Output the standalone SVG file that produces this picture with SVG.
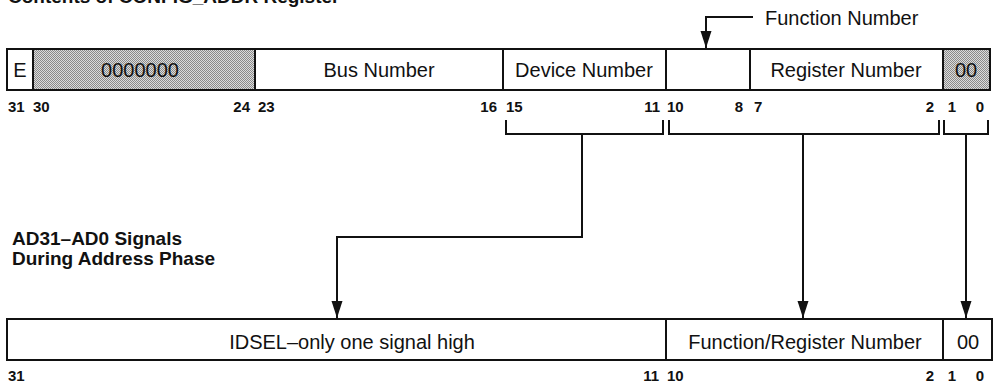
<svg xmlns="http://www.w3.org/2000/svg" width="994" height="388" viewBox="0 0 994 388">
<style>
  .box{fill:none;stroke:#111;stroke-width:2}
  .shade{fill:url(#dots);stroke:#111;stroke-width:2}
  .t{font-family:"Liberation Sans",Arial,Helvetica,sans-serif;font-size:20px;fill:#111;text-anchor:middle}
  .b{font-family:"Liberation Sans",Arial,Helvetica,sans-serif;font-size:15px;font-weight:bold;fill:#111}
  .h{font-family:"Liberation Sans",Arial,Helvetica,sans-serif;font-size:19px;font-weight:bold;fill:#111}
  .end{text-anchor:end}
  .line{fill:none;stroke:#111;stroke-width:2}
</style>
<defs>
  <pattern id="dots" width="2" height="2" patternUnits="userSpaceOnUse">
    <rect width="2" height="2" fill="#dcdcdc"/>
    <rect width="1" height="1" fill="#8a8a8a"/>
    <rect x="1" y="1" width="1" height="1" fill="#8a8a8a"/>
  </pattern>
  <marker id="arr" markerUnits="userSpaceOnUse" markerWidth="18" markerHeight="12" refX="17" refY="6" orient="auto" viewBox="0 0 18 12">
    <path d="M0,0.5 L17,6 L0,11.5 Z" fill="#111"/>
  </marker>
</defs>
<rect width="994" height="388" fill="#fff"/>

<text class="h" x="8" y="3">Contents of CONFIG_ADDR Register</text>

<g id="config-addr">
  <g id="f-e"><rect class="box" x="7" y="49" width="26" height="41"/><text class="t" x="20" y="77">E</text></g>
  <g id="f-reserved"><rect class="shade" x="33" y="49" width="222" height="41"/><text class="t" x="140" y="77">0000000</text></g>
  <g id="f-bus"><rect class="box" x="255" y="49" width="248" height="41"/><text class="t" x="379" y="77">Bus Number</text></g>
  <g id="f-device"><rect class="box" x="503" y="49" width="163" height="41"/><text class="t" x="584" y="77">Device Number</text></g>
  <g id="f-function"><rect class="box" x="666" y="49" width="84" height="41"/></g>
  <g id="f-register"><rect class="box" x="750" y="49" width="193" height="41"/><text class="t" x="846" y="77">Register Number</text></g>
  <g id="f-type"><rect class="shade" x="943" y="49" width="47" height="41"/><text class="t" x="966" y="77">00</text></g>
  <g id="bits-top">
    <text class="b" x="8" y="112">31</text>
    <text class="b" x="33" y="112">30</text>
    <text class="b end" x="250" y="112">24</text>
    <text class="b" x="258" y="112">23</text>
    <text class="b end" x="497" y="112">16</text>
    <text class="b" x="506" y="112">15</text>
    <text class="b end" x="660" y="112">11</text>
    <text class="b" x="667" y="112">10</text>
    <text class="b end" x="743" y="112">8</text>
    <text class="b" x="754" y="112">7</text>
    <text class="b end" x="934" y="112">2</text>
    <text class="b end" x="956" y="112">1</text>
    <text class="b end" x="984" y="112">0</text>
  </g>
</g>

<g id="function-label">
  <text class="t" x="765" y="25" style="text-anchor:start">Function Number</text>
</g>

<g id="ad-label">
  <text class="h" x="12" y="245">AD31–AD0 Signals</text>
  <text class="h" x="12" y="265">During Address Phase</text>
</g>

<g id="ad-bus">
  <g id="a-idsel"><rect class="box" x="7" y="319" width="659" height="41"/><text class="t" x="352" y="349">IDSEL–only one signal high</text></g>
  <g id="a-funcreg"><rect class="box" x="666" y="319" width="277" height="41"/><text class="t" x="805" y="349">Function/Register Number</text></g>
  <g id="a-type"><rect class="box" x="943" y="319" width="49" height="41"/><text class="t" x="968" y="349">00</text></g>
  <g id="bits-bottom">
    <text class="b" x="8" y="381">31</text>
    <text class="b end" x="659" y="381">11</text>
    <text class="b" x="667" y="381">10</text>
    <text class="b end" x="934" y="381">2</text>
    <text class="b end" x="956" y="381">1</text>
    <text class="b end" x="984" y="381">0</text>
  </g>
</g>

<g id="connectors">
  <path class="line" d="M753,17 H706 V48" marker-end="url(#arr)"/>
  <path class="line" d="M506,120 V134 H663 V120"/>
  <path class="line" d="M669,120 V134 H939 V120"/>
  <path class="line" d="M944,120 V134 H988 V120"/>
  <path class="line" d="M582,134 V237 H337 V318" marker-end="url(#arr)"/>
  <path class="line" d="M803,134 V318" marker-end="url(#arr)"/>
  <path class="line" d="M966,134 V318" marker-end="url(#arr)"/>
</g>
</svg>
